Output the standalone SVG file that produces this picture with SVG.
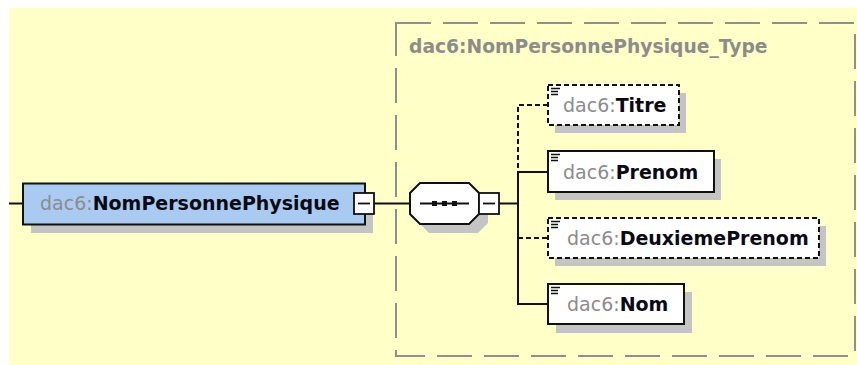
<svg xmlns="http://www.w3.org/2000/svg" width="857" height="365" viewBox="0 0 857 365">
<style>
.bg{fill:#FFFFC8}
.shadow{fill:#C4C4C4}
.box{fill:#fff;stroke:#111;stroke-width:2}
.opt{stroke-dasharray:5 3}
.main{fill:#A9CBF2;stroke:#111;stroke-width:2}
.ln{stroke:#111;stroke-width:2;fill:none}
.dln{stroke:#111;stroke-width:2;fill:none;stroke-dasharray:5 3}
.ns{font-family:"DejaVu Sans",sans-serif;font-size:19px;fill:#8C8C8C}
.nm{font-weight:bold;fill:#0A0A14}
.ttl{font-family:"DejaVu Sans",sans-serif;font-size:18.7px;font-weight:bold;fill:#8C8C8C}
.icon{stroke:#111;stroke-width:1.3}
</style>
<rect class="bg" x="9" y="8" width="848" height="357"/>
<g id="type-box">
<rect x="396" y="23" width="459" height="333" fill="none" stroke="#8F8F8F" stroke-width="2" stroke-dasharray="35 12"/>
<text class="ttl" x="409" y="53">dac6:NomPersonnePhysique_Type</text>
</g>
<g id="connectors">
<line class="ln" x1="9" y1="203.5" x2="23" y2="203.5"/>
<line class="ln" x1="374" y1="203.5" x2="410" y2="203.5"/>
<line class="ln" x1="499" y1="203.5" x2="518" y2="203.5"/>
<path class="dln" d="M548 105 H518 V172"/>
<path class="ln" d="M548 172 H518 V304 H548"/>
<line class="dln" x1="518" y1="238" x2="548" y2="238"/>
</g>
<g id="NomPersonnePhysique">
<rect class="shadow" x="31" y="192" width="342" height="41"/>
<rect class="main" x="23" y="183.5" width="342" height="41"/>
<text class="ns" x="40" y="210">dac6:<tspan class="nm">NomPersonnePhysique</tspan></text>
<rect x="354" y="193" width="20" height="21" fill="#fff" stroke="#111" stroke-width="1.8"/>
<line x1="358" y1="203.5" x2="370" y2="203.5" stroke="#111" stroke-width="1.8"/>
</g>
<g id="sequence">
<polygon class="shadow" points="429,192 478,192 488,202 488,223 478,233 429,233 419,223 419,202"/>
<polygon points="420,183 469,183 479,193 479,214 469,224 420,224 410,214 410,193" fill="#fff" stroke="#111" stroke-width="2"/>
<line x1="420" y1="203.5" x2="469" y2="203.5" stroke="#111" stroke-width="1.8"/>
<rect x="432" y="201" width="5" height="5" fill="#111"/>
<rect x="442" y="201" width="5" height="5" fill="#111"/>
<rect x="452" y="201" width="5" height="5" fill="#111"/>
<rect x="479" y="193" width="20" height="21" fill="#fff" stroke="#111" stroke-width="1.8"/>
<line x1="483" y1="203.5" x2="495" y2="203.5" stroke="#111" stroke-width="1.8"/>
</g>
<g id="Titre">
<rect class="shadow" x="555" y="93" width="131" height="40"/>
<rect class="box opt" x="548" y="85" width="131" height="40"/>
<path class="icon" d="M551 88.5h9M551 91.5h7M551 94.5h7"/>
<text class="ns" x="563" y="112">dac6:<tspan class="nm">Titre</tspan></text>
</g>
<g id="Prenom">
<rect class="shadow" x="555" y="159" width="166" height="41"/>
<rect class="box" x="548" y="151" width="166" height="41"/>
<path class="icon" d="M551 154.5h9M551 157.5h7M551 160.5h7"/>
<text class="ns" x="563" y="179">dac6:<tspan class="nm">Prenom</tspan></text>
</g>
<g id="DeuxiemePrenom">
<rect class="shadow" x="555" y="226" width="271" height="40"/>
<rect class="box opt" x="548" y="218" width="271" height="40"/>
<path class="icon" d="M551 221.5h9M551 224.5h7M551 227.5h7"/>
<text class="ns" x="567" y="245">dac6:<tspan class="nm">DeuxiemePrenom</tspan></text>
</g>
<g id="Nom">
<rect class="shadow" x="556" y="292" width="136" height="41"/>
<rect class="box" x="548" y="284" width="136" height="40"/>
<path class="icon" d="M551 287.5h9M551 290.5h7M551 293.5h7"/>
<text class="ns" x="567" y="311">dac6:<tspan class="nm">Nom</tspan></text>
</g>
</svg>
